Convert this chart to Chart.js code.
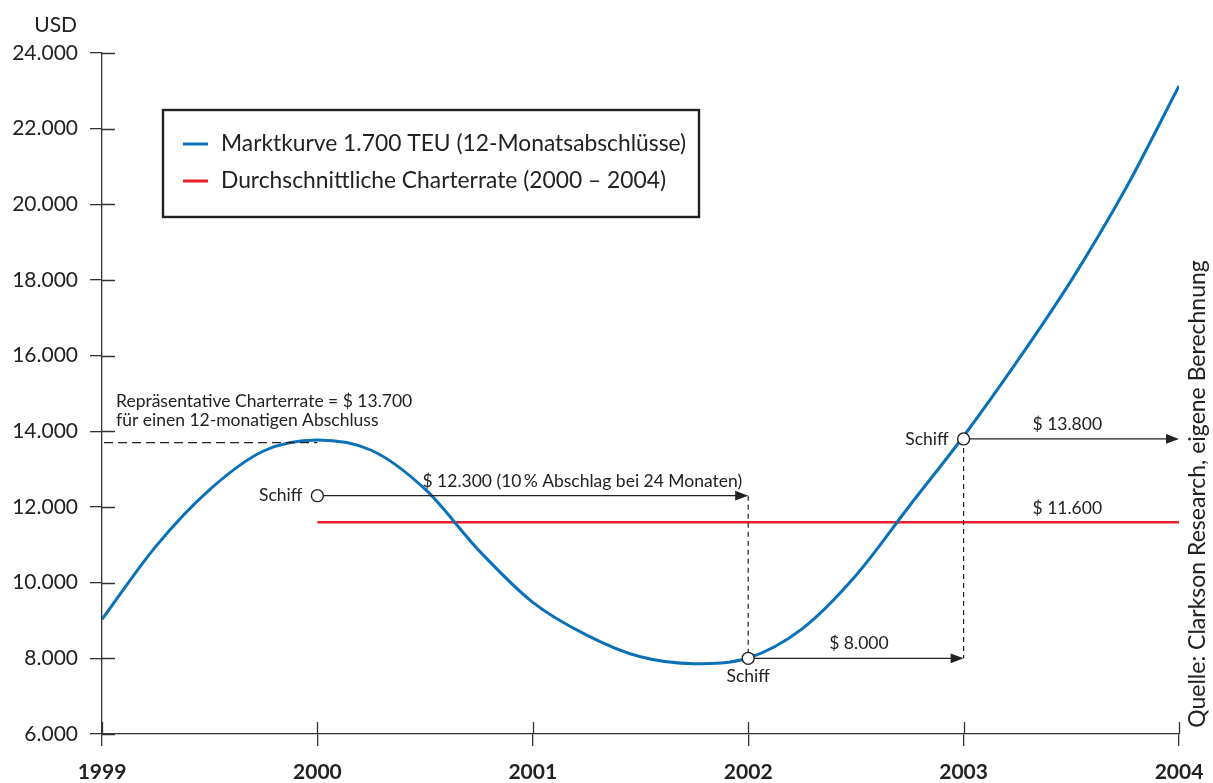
<!DOCTYPE html>
<html lang="de">
<head>
<meta charset="utf-8">
<title>Marktkurve 1.700 TEU</title>
<script src="https://cdn.jsdelivr.net/npm/chart.js@4/dist/chart.umd.min.js"></script>
<style>
  html, body { margin: 0; padding: 0; background: #ffffff; }
  canvas { display: block; }
</style>
</head>
<body>
<canvas id="chart" width="1213" height="783"></canvas>
<script>
// Market curve for 1,700 TEU ships (12-month fixtures), USD per day, quarterly
const years = [
  1999.0, 1999.25, 1999.5, 1999.75,
  2000.0, 2000.25, 2000.5, 2000.75,
  2001.0, 2001.25, 2001.5, 2001.75,
  2002.0, 2002.25, 2002.5, 2002.75,
  2003.0, 2003.25, 2003.5, 2003.75,
  2004.0
];
const marketRates = [
  9030, 10960, 12460, 13480,
  13770, 13500, 12470, 10850,
  9480, 8615, 8040, 7860,
  8010, 8780, 10190, 12040,
  13870, 15860, 17990, 20390,
  23130
];

// Average charter rate over the period 2000 – 2004
const avgYears = [2000, 2004];
const avgRates = [11600, 11600];

// Axis ticks
const xTicks = [1999, 2000, 2001, 2002, 2003, 2004];
const yTicks = [6000, 8000, 10000, 12000, 14000, 16000, 18000, 20000, 22000, 24000];

// Representative 12-month rate at the start of 2000
const repYear = 2000;
const repRate = 13700;
const repLines = ['Repräsentative Charterrate = $ 13.700', 'für einen 12-monatigen Abschluss'];

// Ships fixed at a given date and rate, running until the fixture ends
const shipYears = [2000, 2002, 2003];
const shipRates = [12300, 8000, 13800];
const fixtureEnds = [2002, 2003, 2004];
const fixtureLabels = ['$ 12.300 (10\u2009% Abschlag bei 24 Monaten)', '$ 8.000', '$ 13.800'];
const avgLabel = '$ 11.600';

const FONT = 'Lato, "Noto Sans", sans-serif';
const INK = '#222222';
const AXIS = '#333333';

function fmt(v) {
  return String(v).replace(/\B(?=(\d{3})+(?!\d))/g, '.');
}

// Tick marks that cross the axes (inner half) plus all annotations
const overlay = {
  id: 'overlay',
  afterDatasetsDraw(chart) {
    const { ctx, chartArea: a, scales: { x, y } } = chart;
    ctx.save();

    // inner halves of the tick marks
    ctx.strokeStyle = AXIS;
    ctx.lineWidth = 1.3;
    ctx.beginPath();
    yTicks.forEach(v => {
      const py = Math.round(y.getPixelForValue(v)) + 0.5;
      ctx.moveTo(a.left, py); ctx.lineTo(a.left + 13, py);
    });
    xTicks.forEach(v => {
      const px = Math.round(x.getPixelForValue(v)) + 0.5;
      ctx.moveTo(px, a.bottom); ctx.lineTo(px, a.bottom - 12);
    });
    ctx.stroke();

    // representative rate: dashed guide up to the peak
    const ry = y.getPixelForValue(repRate);
    ctx.setLineDash([9, 5]);
    ctx.lineWidth = 1.3;
    ctx.strokeStyle = INK;
    ctx.beginPath();
    ctx.moveTo(a.left + 2, ry); ctx.lineTo(x.getPixelForValue(repYear), ry);
    ctx.stroke();
    ctx.setLineDash([]);
    ctx.fillStyle = INK;
    ctx.font = '17.5px ' + FONT;
    ctx.textAlign = 'left';
    ctx.textBaseline = 'middle';
    ctx.fillText(repLines[0], a.left + 14, ry - 41);
    ctx.fillText(repLines[1], a.left + 14, ry - 22);

    // dashed verticals linking one fixture end to the next ship
    ctx.setLineDash([5, 4]);
    ctx.lineWidth = 1.2;
    ctx.beginPath();
    for (let i = 0; i < shipYears.length - 1; i++) {
      const px = x.getPixelForValue(fixtureEnds[i]);
      const y1 = y.getPixelForValue(shipRates[i]);
      const y2 = y.getPixelForValue(shipRates[i + 1]);
      ctx.moveTo(px, Math.min(y1, y2)); ctx.lineTo(px, Math.max(y1, y2));
    }
    ctx.stroke();
    ctx.setLineDash([]);

    // fixture arrows with labels
    const r = 6;
    shipYears.forEach((sx, i) => {
      const x0 = x.getPixelForValue(sx) + r;
      const x1 = x.getPixelForValue(fixtureEnds[i]);
      const py = y.getPixelForValue(shipRates[i]);
      ctx.strokeStyle = INK;
      ctx.lineWidth = 1.4;
      ctx.beginPath();
      ctx.moveTo(x0, py); ctx.lineTo(x1 - 10, py);
      ctx.stroke();
      ctx.fillStyle = INK;
      ctx.beginPath();
      ctx.moveTo(x1, py); ctx.lineTo(x1 - 13, py - 4.8); ctx.lineTo(x1 - 13, py + 4.8);
      ctx.closePath();
      ctx.fill();

      ctx.font = '17.5px ' + FONT;
      ctx.textBaseline = 'middle';
      if (i === 0) {
        ctx.textAlign = 'right';
        ctx.fillText(fixtureLabels[i], x1 - 6, py - 14);
      } else {
        ctx.textAlign = 'center';
        const mid = i === 1 ? (x0 + x1) / 2 : x.getPixelForValue((sx + fixtureEnds[i]) / 2) - 4;
        ctx.fillText(fixtureLabels[i], mid, py - 15);
      }
    });

    // average rate label
    ctx.textAlign = 'center';
    ctx.fillText(avgLabel, x.getPixelForValue(2003.5) - 4, y.getPixelForValue(avgRates[1]) - 14);

    // ships (open circles) and their labels
    shipYears.forEach((sx, i) => {
      const px = x.getPixelForValue(sx);
      const py = y.getPixelForValue(shipRates[i]);
      ctx.beginPath();
      ctx.arc(px, py, r, 0, Math.PI * 2);
      ctx.fillStyle = '#ffffff';
      ctx.fill();
      ctx.strokeStyle = INK;
      ctx.lineWidth = 1.4;
      ctx.stroke();
      ctx.fillStyle = INK;
      ctx.font = '17.5px ' + FONT;
      ctx.textBaseline = 'middle';
      if (i === 1) {
        ctx.textAlign = 'center';
        ctx.fillText('Schiff', px, py + 18);
      } else {
        ctx.textAlign = 'right';
        ctx.fillText('Schiff', px - 15, py);
      }
    });

    // legend box
    const lx = 163, ly = 110, lw = 536, lh = 107;
    ctx.fillStyle = '#ffffff';
    ctx.fillRect(lx, ly, lw, lh);
    ctx.strokeStyle = INK;
    ctx.lineWidth = 2.4;
    ctx.strokeRect(lx, ly, lw, lh);
    chart.data.datasets.forEach((ds, i) => {
      const cy = ly + 34 + i * 37;
      ctx.strokeStyle = ds.borderColor;
      ctx.lineWidth = 3;
      ctx.beginPath();
      ctx.moveTo(lx + 20, cy); ctx.lineTo(lx + 45, cy);
      ctx.stroke();
      ctx.fillStyle = INK;
      ctx.font = '22.8px ' + FONT;
      ctx.textAlign = 'left';
      ctx.textBaseline = 'middle';
      ctx.fillText(ds.label, lx + 58, cy);
    });

    // unit label
    ctx.fillStyle = INK;
    ctx.font = '21px ' + FONT;
    ctx.textAlign = 'right';
    ctx.textBaseline = 'middle';
    ctx.fillText('USD', 77, 25);

    // source, rotated along the right edge
    ctx.translate(1198, 494);
    ctx.rotate(-Math.PI / 2);
    ctx.textAlign = 'center';
    ctx.font = '23px ' + FONT;
    ctx.fillText('Quelle: Clarkson Research, eigene Berechnung', 0, 0);

    ctx.restore();
  }
};

new Chart(document.getElementById('chart'), {
  type: 'line',
  data: {
    datasets: [
      {
        label: 'Marktkurve 1.700 TEU (12-Monatsabschlüsse)',
        data: years.map((v, i) => ({ x: v, y: marketRates[i] })),
        borderColor: '#0a71b9',
        borderWidth: 3,
        pointRadius: 0,
        cubicInterpolationMode: 'monotone',
        fill: false
      },
      {
        label: 'Durchschnittliche Charterrate (2000 – 2004)',
        data: avgYears.map((v, i) => ({ x: v, y: avgRates[i] })),
        borderColor: '#e8202a',
        borderWidth: 2.5,
        pointRadius: 0,
        fill: false
      }
    ]
  },
  options: {
    responsive: false,
    animation: false,
    devicePixelRatio: 1,
    layout: { padding: { top: 53, right: 34, left: 0, bottom: 0 } },
    plugins: { legend: { display: false }, tooltip: { enabled: false } },
    scales: {
      x: {
        type: 'linear',
        min: 1999,
        max: 2004,
        afterFit: s => { s.height = 49; s.paddingLeft = 0; s.paddingRight = 0; },
        afterBuildTicks: s => { s.ticks = xTicks.map(v => ({ value: v })); },
        ticks: {
          callback: v => String(v),
          font: { family: FONT, size: 21, weight: 'bold' },
          color: INK,
          padding: 14,
          maxRotation: 0
        },
        grid: { drawOnChartArea: false, tickLength: 12, color: AXIS, lineWidth: 1.3 },
        border: { color: AXIS, width: 1.3 }
      },
      y: {
        min: 6000,
        max: 24000,
        afterFit: s => { s.width = 102; s.paddingTop = 0; s.paddingBottom = 0; },
        afterBuildTicks: s => { s.ticks = yTicks.map(v => ({ value: v })); },
        ticks: {
          callback: v => fmt(v),
          font: { family: FONT, size: 21 },
          color: INK,
          padding: 12
        },
        grid: { drawOnChartArea: false, tickLength: 12, color: AXIS, lineWidth: 1.3 },
        border: { color: AXIS, width: 1.3 }
      }
    }
  },
  plugins: [overlay]
});
</script>
</body>
</html>
